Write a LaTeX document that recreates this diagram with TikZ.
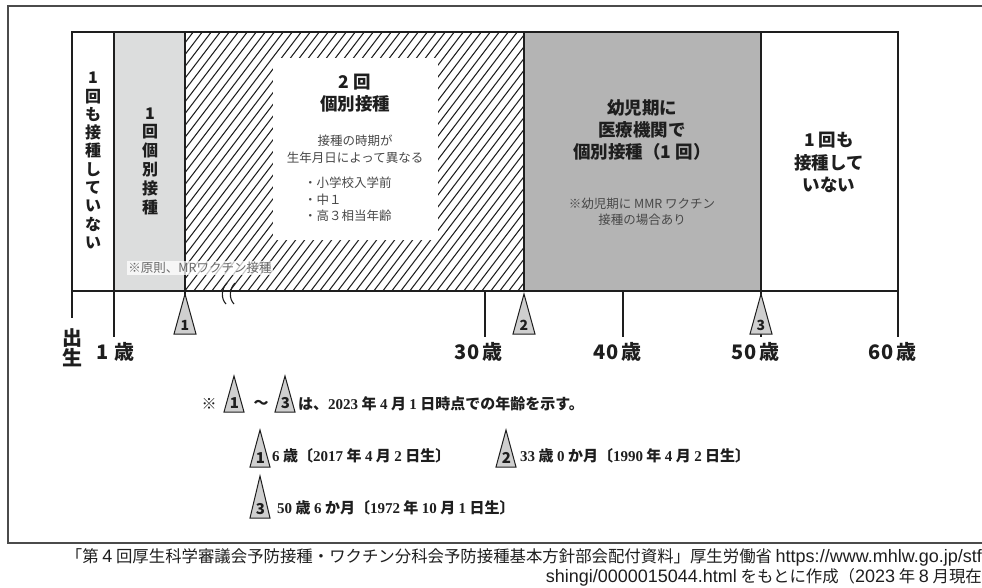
\documentclass[tikz,border=0pt]{standalone}
\usepackage{fontspec}
\setmainfont{Noto Sans CJK JP}
\newfontfamily\lsr{Liberation Serif}
\newfontfamily\lsans{Liberation Sans}
\definecolor{lgray}{HTML}{DCDDDD}
\definecolor{mgray}{HTML}{B4B4B4}
\definecolor{tgray}{HTML}{CFCFCF}
\definecolor{ink}{HTML}{1E1E1E}
\definecolor{soft}{HTML}{484848}
\definecolor{notec}{HTML}{6A6A6A}
\newcommand\sr[1]{{\lsr\bfseries #1}}
\newcommand\la[1]{{\lsans\fontsize{18}{18}\selectfont #1}}
\newcommand\trimk[5]{%
  \draw[trifill] (#2,#3) -- (#2+11,#4) -- (#2-11,#4) -- cycle;
  \node[trinum] (#1) at (#2,#4-9) {#5};}
\newcommand\trilg[5]{%
  \draw[trifill] (#2,#3) -- (#2+10,#4) -- (#2-10,#4) -- cycle;
  \node[lgnum] (#1) at (#2+0.5,#4-9) {#5};}
\tikzset{
  barln/.style={draw=ink, line width=1.5pt},
  hatchln/.style={draw=ink, line width=1.05pt},
  frameln/.style={draw=ink!80, line width=1.3pt},
  trifill/.style={fill=tgray, draw=ink, line width=1pt, line join=miter},
  trinum/.style={font=\bfseries\fontsize{14}{14}\selectfont, text=ink, inner sep=0},
  lgnum/.style={font=\bfseries\fontsize{15}{15}\selectfont, text=ink, inner sep=0},
  vt/.style={font=\bfseries\fontsize{16}{18.3}\selectfont, align=center, text=ink, inner sep=0},
  bt/.style={font=\bfseries\fontsize{17.5}{22}\selectfont, align=center, text=ink, inner sep=0},
  st/.style={font=\fontsize{12.5}{16.5}\selectfont, align=center, text=soft, inner sep=0},
  notebox/.style={font=\fontsize{12.5}{14}\selectfont, text=notec, fill=white, fill opacity=0.75, text opacity=1, inner sep=1pt},
  tl/.style={font=\bfseries\fontsize{20}{20}\selectfont, text=ink, inner sep=0},
  lgt/.style={font=\bfseries\fontsize{15}{15}\selectfont, text=ink, inner sep=0},
  ft/.style={font=\fontsize{16.4}{16}\selectfont, text=ink, inner sep=0},
  brk/.style={draw=ink, line width=1.1pt},
}
\begin{document}
\begin{tikzpicture}[x=1pt,y=-1pt]
\useasboundingbox (0,0) rectangle (982,587);
% outer frame
\draw[frameln] (982,6) -- (8,6) -- (8,543) -- (982,543);
% bar fills
\fill[lgray] (114,32) rectangle (185,291);
\begin{scope}
  \clip (185,32) rectangle (524,291);
  \foreach \i in {0,...,60} \draw[hatchln] ({-14+\i*9},292) -- ({-14+\i*9+199},31);
\end{scope}
\fill[mgray] (524,32) rectangle (761,291);
\fill[white] (273,58) rectangle (438,240);
% bar outline
\draw[barln] (72,32) rectangle (898,291);
\foreach \xx in {114,185,524,761} \draw[barln] (\xx,32) -- (\xx,291);
% ticks
\draw[barln] (72,291) -- (72,318);
\foreach \xx in {114,485,623,761,898} \draw[barln] (\xx,291) -- (\xx,337);
\draw[barln] (185,291) -- (185,295);
% break mark
\draw[brk] (227,283) .. controls (221,289) and (221,299) .. (226,304);
\draw[brk] (235,283) .. controls (229,289) and (229,299) .. (234,304);
% triangles on axis
\trimk{t1}{185}{294}{334}{1}
\trimk{t2}{524}{294}{334}{2}
\trimk{t3}{761}{294}{334}{3}
% note in column 2
\node[notebox] (n1) at (200,268) {※原則、MRワクチン接種};
% column texts
\node[vt] (c1) at (93,160.5) {1\\回\\も\\接\\種\\し\\て\\い\\な\\い};
\node[vt, font=\bfseries\fontsize{16}{18.8}\selectfont] (c2) at (150,161) {1\\回\\個\\別\\接\\種};
\node[bt] (c3a) at (355,93) {2 回\\個別接種};
\node[st] (c3b) at (355,149) {接種の時期が\\生年月日によって異なる};
\node[st, align=left, anchor=west] (c3c) at (304,199.5) {・小学校入学前\\・中１\\・高３相当年齢};
\node[bt] (c4a) at (642,130) {幼児期に\\医療機関で\\個別接種（1 回）};
\node[st] (c4b) at (642,212) {※幼児期に MMR ワクチン\\接種の場合あり};
\node[bt, font=\bfseries\fontsize{17.5}{22.5}\selectfont] (c5) at (829,162.5) {1 回も\\接種して\\いない};
% tick labels
\node[tl, align=center] (l0) at (72,347.5) {出\\生};
\node[tl, anchor=west] (l1) at (114,352) {\llap{1\hspace{6pt}}歳};
\node[tl, anchor=west] (l30) at (482,352) {\llap{30\hspace{3pt}}歳};
\node[tl, anchor=west] (l40) at (621,352) {\llap{40\hspace{3pt}}歳};
\node[tl, anchor=west] (l50) at (759,352) {\llap{50\hspace{3pt}}歳};
\node[tl, anchor=west] (l60) at (896,352) {\llap{60\hspace{3pt}}歳};
% legend
\node[lgt] (h0) at (209,404) {※};
\trilg{h1}{234}{376}{412}{1}
\node[lgt] (h2) at (261,404) {～};
\trilg{h3}{285}{376}{412}{3}
\node[lgt, anchor=west] (h4) at (298,404) {は、\sr{2023} 年 \sr{4} 月 \sr{1} 日時点での年齢を示す。};
\trilg{g1}{260}{430}{467}{1}
\node[lgt, anchor=west] (g1t) at (272,456) {\sr{6} 歳〔\sr{2017} 年 \sr{4} 月 \sr{2} 日生〕};
\trilg{g2}{506}{430}{467}{2}
\node[lgt, anchor=west] (g2t) at (520,456) {\sr{33} 歳 \sr{0} か月〔\sr{1990} 年 \sr{4} 月 \sr{2} 日生〕};
\trilg{g3}{260}{476}{518}{3}
\node[lgt, anchor=west] (g3t) at (277,508) {\sr{50} 歳 \sr{6} か月〔\sr{1972} 年 \sr{10} 月 \sr{1} 日生〕};
% footer
\node[ft, anchor=east] (f1) at (982,557) {「第 \la{4} 回厚生科学審議会予防接種・ワクチン分科会予防接種基本方針部会配付資料」厚生労働省 \la{https://www.mhlw.go.jp/stf}};
\node[ft, anchor=east] (f2) at (982,577) {\la{shingi/0000015044.html} をもとに作成（\la{2023} 年 \la{8} 月現在};
\end{tikzpicture}
\end{document}
